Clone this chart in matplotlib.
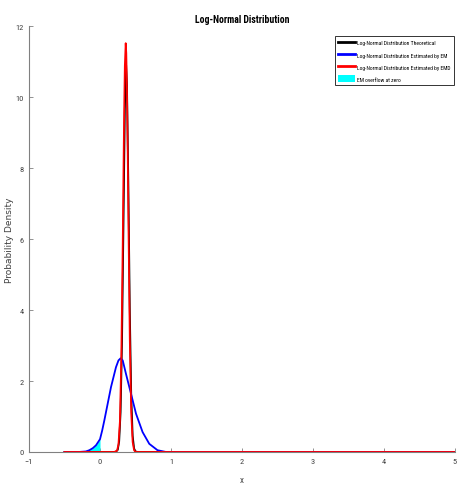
import matplotlib
matplotlib.use("Agg")
import matplotlib.pyplot as plt
from matplotlib.patches import Patch
from matplotlib.lines import Line2D
from matplotlib import font_manager

# Theoretical log-normal density
theo_x = [-0.5, 0.22, 0.25, 0.27, 0.29, 0.31, 0.33, 0.35, 0.368, 0.38, 0.40, 0.42, 0.44, 0.46, 0.48, 0.50, 0.53, 5.0]
theo_y = [0.0, 0.0, 0.06, 0.30, 1.12, 3.1, 6.35, 9.66, 10.9, 10.33, 7.44, 3.97, 1.57, 0.46, 0.10, 0.017, 0.0, 0.0]

# EM estimate (normal-like)
em_x = [-0.5, -0.3, -0.2, -0.15, -0.1, -0.056, 0.0, 0.03, 0.061, 0.108, 0.155, 0.225, 0.26, 0.29, 0.32, 0.366, 0.437, 0.507, 0.60, 0.694, 0.81, 0.93, 5.0]
em_y = [0.0, 0.0, 0.015, 0.05, 0.11, 0.19, 0.36, 0.6, 0.89, 1.36, 1.83, 2.39, 2.58, 2.64, 2.58, 2.2, 1.64, 1.08, 0.56, 0.23, 0.05, 0.0, 0.0]

# EMD estimate
emd_x = [-0.5, 0.20, 0.24, 0.26, 0.28, 0.30, 0.32, 0.33, 0.34, 0.35, 0.362, 0.37, 0.38, 0.39, 0.40, 0.42, 0.44, 0.46, 0.48, 0.50, 0.52, 5.0]
emd_y = [0.0, 0.0, 0.037, 0.21, 0.85, 2.61, 5.82, 7.75, 9.54, 10.88, 11.52, 11.24, 10.15, 8.5, 6.59, 3.14, 1.1, 0.28, 0.05, 0.005, 0.0, 0.0]

x_ticks = [-1, 0, 1, 2, 3, 4, 5]
y_ticks = [0, 2, 4, 6, 8, 10, 12]
legend_labels = ["Log-Normal Distribution Theoretical",
                 "Log-Normal Distribution Estimated by EM",
                 "Log-Normal Distribution Estimated by EMD",
                 "EM overflow at zero"]

available = {f.name for f in font_manager.fontManager.ttflist}
narrow_name = None
for cand in ["Liberation Sans Narrow", "DejaVu Sans Condensed", "Roboto Condensed",
             "Open Sans Condensed", "Arial Narrow", "Nimbus Sans Narrow"]:
    if cand in available:
        narrow_name = cand
        break
narrow = [narrow_name, "DejaVu Sans"] if narrow_name else ["DejaVu Sans"]
stretch = narrow_name is not None
leg_size = 4.1 if stretch else 3.2

fig = plt.figure(figsize=(4.57, 4.85), dpi=100)
ax = fig.add_axes([0.0635, 0.066, 0.932, 0.878])

# overflow fill (x < 0 under EM curve)
fx = [x for x in em_x if x <= 0]
fy = [y for x, y in zip(em_x, em_y) if x <= 0]
ax.fill_between(fx, fy, 0, color=(0, 1, 1), linewidth=0, zorder=2)

ax.plot(theo_x, theo_y, color="black", lw=1.3, zorder=3)
ax.plot(em_x, em_y, color="blue", lw=1.3, zorder=4)
ax.plot(emd_x, emd_y, color="red", lw=1.3, zorder=5)

ax.set_xlim(-1, 5)
ax.set_ylim(0, 12)
ax.set_xticks(x_ticks)
ax.set_yticks(y_ticks)
for s in ["top", "right"]:
    ax.spines[s].set_visible(False)
for s in ["left", "bottom"]:
    ax.spines[s].set_color("#808080")
    ax.spines[s].set_linewidth(0.8)
ax.tick_params(direction="in", length=3, width=0.6, color="#808080",
               labelsize=6, labelcolor="#404040", pad=4)
for lab in ax.get_xticklabels() + ax.get_yticklabels():
    lab.set_family(narrow)

ax.set_title("Log-Normal Distribution", fontsize=7, fontweight="bold",
             family=narrow, pad=3)
ax.set_xlabel("x", fontsize=6.5, color="#404040", family=narrow, labelpad=8)
ax.set_ylabel("Probability Density", fontsize=6.5, color="#404040", labelpad=1)

handles = [Line2D([], [], color="black", lw=2),
           Line2D([], [], color="blue", lw=2),
           Line2D([], [], color="red", lw=2),
           Patch(facecolor=(0, 1, 1), edgecolor="none")]
leg = ax.legend(handles, legend_labels, loc="upper right",
                bbox_to_anchor=(0.997, 0.977), prop={"family": narrow, "size": leg_size},
                frameon=True, fancybox=False, handlelength=3.0,
                handleheight=1.5, handletextpad=0.3, borderpad=0.55,
                labelspacing=0.9, borderaxespad=0.0)
leg.get_frame().set_edgecolor("black")
leg.get_frame().set_linewidth(0.7)

fig.savefig("out.png", dpi=100)
